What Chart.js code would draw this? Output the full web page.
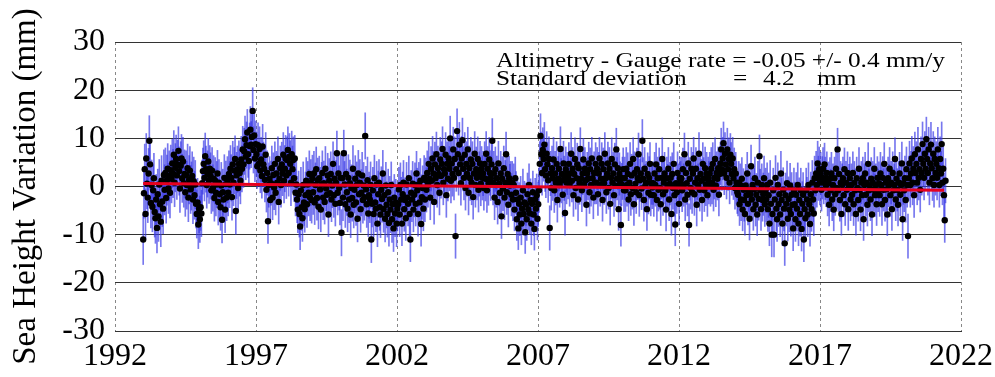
<!DOCTYPE html>
<html>
<head>
<meta charset="utf-8">
<script src="https://cdn.jsdelivr.net/npm/chart.js@4/dist/chart.umd.min.js"></script>
<style>
  html, body { margin: 0; padding: 0; background: #fff; }
  #wrap { position: relative; width: 995px; height: 377px; }
</style>
</head>
<body>
<div id="wrap"><canvas id="chart"></canvas></div>
<script>
// sea height difference (altimetry minus gauge), one value per 9.9156-day repeat cycle, mm
var firstCycle = 1993.0;
var cycleDays = 9.9156;

var topexPoseidon = [
    -11, -1.4, 3.6, -5.7, 5.8, 0.6, -2.3, 2.7, 9.5, 4.6, -3.4, 0.3, -4.2, -0.8, 1.7, -5.3, -6.6, -2.7, -8.6, -1.6, -6.2, 0.4, -3.7, -7.3, 1.2, -3.1, -4.6, 2.4, -0.7, 2.8, -2.4, 1.3, 3.7, -0.4, 2.2, -1.3, 3.4,
    1.6, 4.8, 2.7, 6.6, 0.8, 3.9, 5.7, 2.3, 4.6, 7.4, 3.2, -0.4, 4.3, 5.8, 1.7, 5.2, 0.7, 2.6, -1.2, 2.4, 0.3, 3.8, -2.3, 1.4, 3.3, -0.6, 0.1, 2.2, -2.7, 1.1, -1.8, 0.4, -3.6, -5.7, -3.3, -7.9, -4.6,
    -6.8, -4.3, -5.6, 0.7, 3.2, 4.7, 1.8, 6.3, 3.6, 0.3, 2.6, 5.2, 1.3, 3.7, 2.2, -0.8, 3.3, -0.3, 1.6, -2.4, 1.2, -1.3, 0.4, 2.7, -3.2, 0.8, -1.6, -4.3, 0.2, -6.9, -1.2, -2.7, 1.8, -4.8, 0.5, -2.3, 1.4,
    -1.3, 2.6, 0.4, 3.7, 1.8, -2.2, 4.6, 0.8, 3.3, 5.7, -5.1, 2.3, 3.6, -0.3, 4.7, 2.8, 1.2, 5.6, 3.7, 7.7, 4.6, 7.3, 9.8, 6.2, 8.6, 11.2, 6.7, 5.3, 8.4, 11.8, 8.7, 10.3, 15.7, 7.6, 10.6, 5.8, 8.8,
    6.7, 4.2, 8.6, 4.7, 7.8, 3.3, 5.6, 2.2, 8.3, 4.6, 3.7, 1.4, 6.6, -0.7, 2.8, -7.2, 0.3, 1.6, -2.8, 0.7, 3.8, -2.3, 2.4, -0.2, 4.7, -1.3, 2.7, 0.8, 5.7, -3.2, 1.6, 3.8, 0.3, 4.6, 2.7, 6.6, 1.2,
    3.7, 5.8, 2.3, 5.5, 7.6, 2.8, 6.2, 4.7, 0.8, 6.7, 3.6, 5.5, 1.7, 5.8, -1.3, 0.4, -2.7, -4.8, -1.6, -5.7, -8.3, -0.8, -4.3, -6.6, 0.3, -3.3, -4.7, -1.8, 1.2, -3.7, 0.4, -1.3, 2.6, -2.3, 0.8, -2.8, 1.7,
    -1.2, 2.7, -3.3, 0.3, 3.6, -2.4, 1.3, -4.2, 1.7, -0.6, -4.8, 0.4, 2.8, -2.3, 0.7, -3.2, 3.7, -0.4, -1.7, 2.3, -5.8, 1.2, -1.4, 2.6, -2.7, 0.2, 4.7, -1.8, 1.6, -3.6, 0.8, 6.9, -1.3, 2.7, -0.3, -3.4, 1.8,
    -9.6, 1.7, -2.3, 6.9, 0.4, -3.7, 2.6, -1.2, -4.6, 1.8, -2.7, 0.7, -5.8, -0.3, -2.4, 3.7, -3.8, -0.7, 1.6, -3.3, 0.3, -6.7, 2.7, -1.6, 0.8, -4.7, -1.3, 2.3, -2.8, 0.2, -2.2, 10.5, -0.6, -3.7, 1.3, -5.6, -1.8,
    -2.7, 0.3, -11, -3.6, -0.8, -5.7, 1.7, -3.3, -4.6, 0.4, -7.7, -1.6, 0.8, -4.3, -5.8, -0.7, -2.6, 2.7, -4.7, -1.8, -6.7, 0.2, -3.8, -5.7, -1.2, -7.6, -2.7, -4.8, 0.3, -6.8, -3.7, -8.7, -2.3, -5.6, -3.3, -7.7, -4.6
];

var jason1 = [
    -3.7, -0.6, -5.8, 0.3, -2.7, -7.7, -1.6, 0.8, -4.7, -2.8, -6.6, 0.4, -2.3, -3.6, 1.7, -5.7, -11, -1.3, -2.7, 0.6, -4.8, -1.7, 0.3, -3.6, 2.7, -0.8, -5.7, 0.4, -3.3, 1.2, -7.8, -2.2, -0.3, -4.6, 1.8, -2.7, 1.3,
    -0.7, 2.8, 0.3, 4.7, 1.6, -2.3, 3.7, 1.2, 5.8, 2.7, -3.2, 4.6, 1.7, 6.7, 0.3, 3.8, 2.6, -1.3, 5.6, 2.2, 4.7, 7.8, 0.8, 3.6, 2.7, 6.6, -1.8, 4.7, 1.6, 5.8, 3.7, 10, 1.2, 4.8, 2.6, 7.7, 1.8,
    5.7, -10.3, 3.6, 11.5, 6.7, 2.8, 8.7, 4.6, 0.7, 5.8, 9.6, 3.7, 1.8, 6.6, -0.3, 4.7, 2.6, 7.7, -1.3, 3.8, 1.7, 5.6, 0.8, 4.7, -2.2, 2.7, 6.8, 0.3, 3.6, 1.8, 5.7, -0.7, 2.6, 4.8, 0.6, 3.7, 1.8,
    2.7, -0.3, 4.7, 1.6, 6.8, -0.8, 3.7, 0.7, 5.6, 2.8, 1.7, 4.6, 9.5, 0.8, 2.7, -2.3, 3.6, 0.3, 1.7, -3.2, 4.8, 0.6, -1.3, 2.7, -6.2, 1.6, -0.4, 3.8, -2.3, 0.8, 6.7, -1.2, 2.6, -3.8, 1.7, 0.2, 0.8,
    -1.7, 0.8, -2.7, 0.3, -4.8, 1.7, -1.3, -6.8, -2.7, -8.7, -3.6, -5.8, -2.3, -7.7, -4.6, -0.8, -5.7, -3.3, -9.5, -3.7, -6.8, -1.6, -4.7, 0.3, -5.6, -2.8, -7.7, -3.6, -1.2, -5.8, -8.8, -2.7, -4.6, -1.8, -6.7, -3.7, -0.8,
    4.7, 10.5, 6.7, 2.8, 7.6, 5.7, 8.7, 3.6, 2.3, 6.8, 4.6, 1.3, 5.7, -8.6, 2.7, -0.3, 3.8, 1.7, 5.6, -0.8, 2.7, 0.8, 4.7, -2.8, 1.6, 3.7, 0.3, 7.8, 1.2, 2.6, -1.7, 4.8, 1.7, -5.5, 3.6, 0.8, 2.7,
    1.8, 4.7, 0.3, 2.7, 6.8, 1.2, 3.7, -1.8, 2.6, 5.7, -0.3, 1.7, 4.6, -2.7, 3.8, 0.7, 7.8, 1.6, -0.8, 2.7, 5.6, 0.4, 3.7, 1.3, -3.8, 2.7, 1.6, 4.8, -1.2, 3.6, 0.3, 5.8, 1.7, -2.3, 2.8, 0.8, 4.7
];

var jason2 = [
    0.8, 3.7, -1.6, 2.7, 5.8, 0.3, 1.6, 4.7, -2.8, 3.6, 0.7, 6.8, 1.7, -1.2, 2.6, 4.8, -0.3, 3.7, -3.6, 1.8, 5.7, 0.8, 2.7, -1.8, 4.6, 0.2, 7.7, 1.6, 3.8, -4.7, 2.6, 0.7, -8, 0.4, 1.7, 3.6, -0.8,
    1.7, -0.8, 3.7, 0.3, 2.6, -2.7, 0.8, 4.7, -1.6, 2.3, -0.3, 5.7, -3.7, 2.8, 0.6, -1.2, 3.6, 1.7, 6.7, -1.8, 1.3, 2.7, -0.4, 9.5, 1.6, -2.8, 3.7, 0.2, 0.8, -4.7, 2.6, -1.3, 1.8, 4.7, -1.7, 0.7, -0.2,
    0.7, -1.8, 2.7, 0.3, 4.6, -2.8, 1.7, -0.7, 3.6, -0.3, -3.7, 1.8, 5.7, -1.6, 0.8, 2.7, -0.8, -4.8, 1.7, 0.2, 3.7, -2.7, 0.6, 1.8, -5.7, 2.6, -0.3, 4.7, -1.8, -7.9, 0.7, -1.2, 2.8, 0.3, -3.6, 1.7, 0.8,
    1.7, -0.8, 3.6, 0.3, 6.7, -2.7, 2.8, 0.7, -1.7, 4.8, -8, 1.6, -0.3, 3.7, -1.2, 2.7, 5.8, -1.6, 0.8, 3.7, -3.8, 1.7, 0.3, 6.8, -0.7, 2.6, 1.2, -2.8, 4.7, 1.6, -0.8, 3.8, 0.4, 2.7, -1.8, 1.7, 0.8,
    2.7, 0.3, 3.7, 0.8, 4.7, -0.7, 1.8, 5.7, 0.2, 2.8, 1.6, 3.8, -1.7, 2.6, 4.8, 7.7, 3.6, 5.8, 9, 2.7, 6.8, 4.6, 1.8, 7.7, 3.6, 5.7, 0.8, 6.6, 4.7, 2.6, 5.8, 1.7, 3.6, -0.3, 2.7, 0.8, -1.2,
    -1.7, 0.8, -3.7, 0.3, -2.7, 1.6, -4.8, -0.7, -2.8, -5.7, 0.2, -1.8, 2.7, -3.6, -0.8, -6.7, -1.6, 4.2, -2.7, 0.3, -4.7, -0.6, 1.7, -3.8, -1.7, -5.8, 0.8, -2.6, 6.3, -0.8, -4.7, 0.3, -2.8, -1.6, 1.7, -3.7, -0.8,
    -2.7, 0.3, -4.7, -1.8, -7.7, 0.8, -3.6, -10, -5.7, -0.8, -10, -2.7, 1.8, -4.6, -6.8, 0.3, -3.7, -1.6, -5.8, 2.7, -2.8, -7.7, -0.7, -4.6, -11.8, -1.8, -3.6, 0.7, -6.7, -2.6, -4.8, 0.2, -5.7, -1.7, -3.8, -8.7, -0.8
];

var jason3 = [
    -3.7, -6.8, -1.7, -4.6, 0.3, -7.7, -2.8, -5.7, -0.8, -8.8, -3.6, -1.7, -11, -4.7, -6.6, -0.8, -2.7, -5.8, 0.3, -3.7, -7.8, -1.6, -4.7, 0.8, -2.7, -5.6, 1.7, -0.8, 2.7, 0.3, 4.8, 1.7, 3.6, 0.8, 2.7, -0.7, 1.8,
    3.7, 0.8, 4.6, 1.7, 0.2, 2.8, -1.7, 0.7, -3.8, 1.6, -0.8, 2.7, -2.7, 0.3, -4.8, 1.7, -1.6, 3.7, -0.3, 7.7, -0.8, 2.6, -2.8, 0.8, -5.7, 0.3, 1.7, -1.8, 3.6, -3.7, 0.8, -0.7, 2.8, -4.7, 0.2, 1.7, -2.7,
    0.3, -1.7, 2.8, -3.7, 0.8, -0.8, -5.7, 1.7, -0.3, -2.8, 3.7, -0.7, -4.8, 0.8, -1.8, 1.7, -6.8, 0.3, 2.7, -1.7, 0.8, -3.8, 4.7, -0.8, 0.2, -2.7, 1.6, -5.8, 0.8, -0.7, 3.7, -1.8, 0.3, -3.7, 1.8, -0.8, 0.7,
    -1.8, 2.7, 0.3, -3.7, 1.8, -0.7, 4.7, -2.8, 0.8, -0.6, -5.8, 1.7, 0.2, 3.7, -1.8, 0.8, -4.7, 2.8, -0.8, 0.3, 5.7, -2.7, 1.6, -0.7, -3.8, 0.8, 2.7, -1.7, 0.3, 4.8, -6.8, 0.7, -0.8, 1.7, -2.8, 3.6, 0.3,
    -10.3, 1.7, 4.8, 0.3, 2.7, 5.8, 0.8, 3.7, -1.8, 6.7, 2.8, 4.7, 0.8, 7.7, 1.8, 3.6, -0.7, 5.7, 2.8, 8.8, 4.7, 1.8, 6.8, 3.7, 9.8, 5.7, 2.8, 7.7, 0.8, 4.8, 8.7, 3.8, 1.7, 6.8, 0.3, 5.7, 2.8,
    4.7, 1.8, 7.7, 3.8, 0.3, 5.7, 2.7, 8.8, 0.8, 3.7, -1.8, -7, 1.2
];

// half length of the error bars, mm, one per calendar year 1993..2021
var errorYears = [1993, 1994, 1995, 1996, 1997, 1998, 1999, 2000, 2001, 2002, 2003, 2004, 2005, 2006, 2007,
    2008, 2009, 2010, 2011, 2012, 2013, 2014, 2015, 2016, 2017, 2018, 2019, 2020, 2021];
var errorHalf = [5.2, 5.0, 4.8, 4.8, 4.6, 4.8, 4.6, 4.8, 4.8, 4.6, 4.6, 4.6, 4.6, 4.4, 4.6,
    4.4, 4.4, 4.4, 4.4, 4.4, 4.4, 4.4, 4.6, 4.6, 4.4, 4.4, 4.4, 4.6, 4.6];

// fitted linear trend
var trendYears = [1993.0, 2021.4];
var trendValues = [0.6, -0.8];

var xTicks = [1992, 1997, 2002, 2007, 2012, 2017, 2022];
var yTicks = [-30, -20, -10, 0, 10, 20, 30];

var rateText = "Altimetry - Gauge rate = -0.05 +/- 0.4 mm/y";
var sdParts = ["Standard deviation", "=", "4.2", "mm"];

var heights = topexPoseidon.concat(jason1, jason2, jason3);
var points = [];
var bars = [];
for (var i = 0; i < heights.length; i++) {
    var t = firstCycle + i * cycleDays / 365.25;
    var k = errorYears.indexOf(Math.floor(t));
    var e = errorHalf[k < 0 ? errorHalf.length - 1 : k];
    points.push({ x: t, y: heights[i] });
    bars.push({ x: t, y: [heights[i] - e, heights[i] + e] });
}
var trend = trendYears.map(function (t, i) { return { x: t, y: trendValues[i] }; });

var serif = "'Liberation Serif', 'Times New Roman', Times, serif";

// the two lines of statistics in the top band of the plot; the face is
// stretched sideways a little so the first line spans 449px
var statsText = {
    id: "statsText",
    afterDraw: function (chart) {
        var ctx = chart.ctx;
        var a = chart.chartArea;
        ctx.save();
        ctx.fillStyle = "#000";
        ctx.font = "22px " + serif;
        ctx.textBaseline = "alphabetic";
        ctx.textAlign = "left";
        var sx = 449 / ctx.measureText(rateText).width;
        var x0 = a.left + 381;
        ctx.translate(x0, 0);
        ctx.scale(sx, 1);
        ctx.fillText(rateText, 0, a.top + 25);
        var y2 = a.top + 43;
        ctx.fillText(sdParts[0], 0, y2);
        ctx.fillText(sdParts[1], 237 / sx, y2);
        ctx.fillText(sdParts[2], 267 / sx, y2);
        ctx.fillText(sdParts[3], 321 / sx, y2);
        ctx.restore();
    }
};

var ctx = document.getElementById("chart").getContext("2d");
var myChart = new Chart(ctx, {
    type: "scatter",
    data: {
        datasets: [
            {
                type: "line",
                data: trend,
                borderColor: "rgb(230, 0, 30)",
                borderWidth: 3,
                pointRadius: 0,
                order: 0
            },
            {
                type: "scatter",
                data: points,
                pointRadius: 3.2,
                pointBackgroundColor: "#000",
                pointBorderWidth: 0,
                order: 1
            },
            {
                type: "bar",
                data: bars,
                backgroundColor: "rgba(55, 55, 230, 0.68)",
                borderWidth: 0,
                barThickness: 1,
                grouped: false,
                order: 2
            }
        ]
    },
    options: {
        responsive: true,
        maintainAspectRatio: false,
        animation: false,
        events: [],
        layout: {
            padding: { top: 42, right: 0, left: 0, bottom: 0 }
        },
        plugins: {
            legend: { display: false },
            tooltip: { enabled: false }
        },
        scales: {
            x: {
                type: "linear",
                min: 1992,
                max: 2022,
                offset: false,
                afterBuildTicks: function (scale) {
                    scale.ticks = xTicks.map(function (v) { return { value: v }; });
                },
                afterFit: function (scale) {
                    scale.height = 46;
                    scale.paddingLeft = 0;
                    scale.paddingRight = 34;
                },
                grid: {
                    color: "#888",
                    lineWidth: 1,
                    drawTicks: false,
                    offset: false
                },
                border: { display: true, color: "#333", width: 1, dash: [3, 3] },
                ticks: {
                    color: "#000",
                    padding: 6,
                    maxRotation: 0,
                    font: { family: serif, size: 32 },
                    callback: function (v) { return String(v); }
                }
            },
            y: {
                type: "linear",
                min: -30,
                max: 30,
                afterBuildTicks: function (scale) {
                    scale.ticks = yTicks.map(function (v) { return { value: v }; });
                },
                afterFit: function (scale) {
                    scale.width = 115;
                    scale.paddingTop = 0;
                    scale.paddingBottom = 0;
                },
                grid: {
                    color: "#333",
                    lineWidth: 1,
                    drawTicks: false
                },
                border: { display: false },
                ticks: {
                    color: "#000",
                    padding: 10,
                    font: { family: serif, size: 32 }
                },
                title: {
                    display: true,
                    text: "Sea Height Variation (mm)",
                    color: "#000",
                    font: { family: serif, size: 33 },
                    padding: { top: 7, bottom: 0 }
                }
            }
        }
    },
    plugins: [statsText]
});
</script>
</body>
</html>
